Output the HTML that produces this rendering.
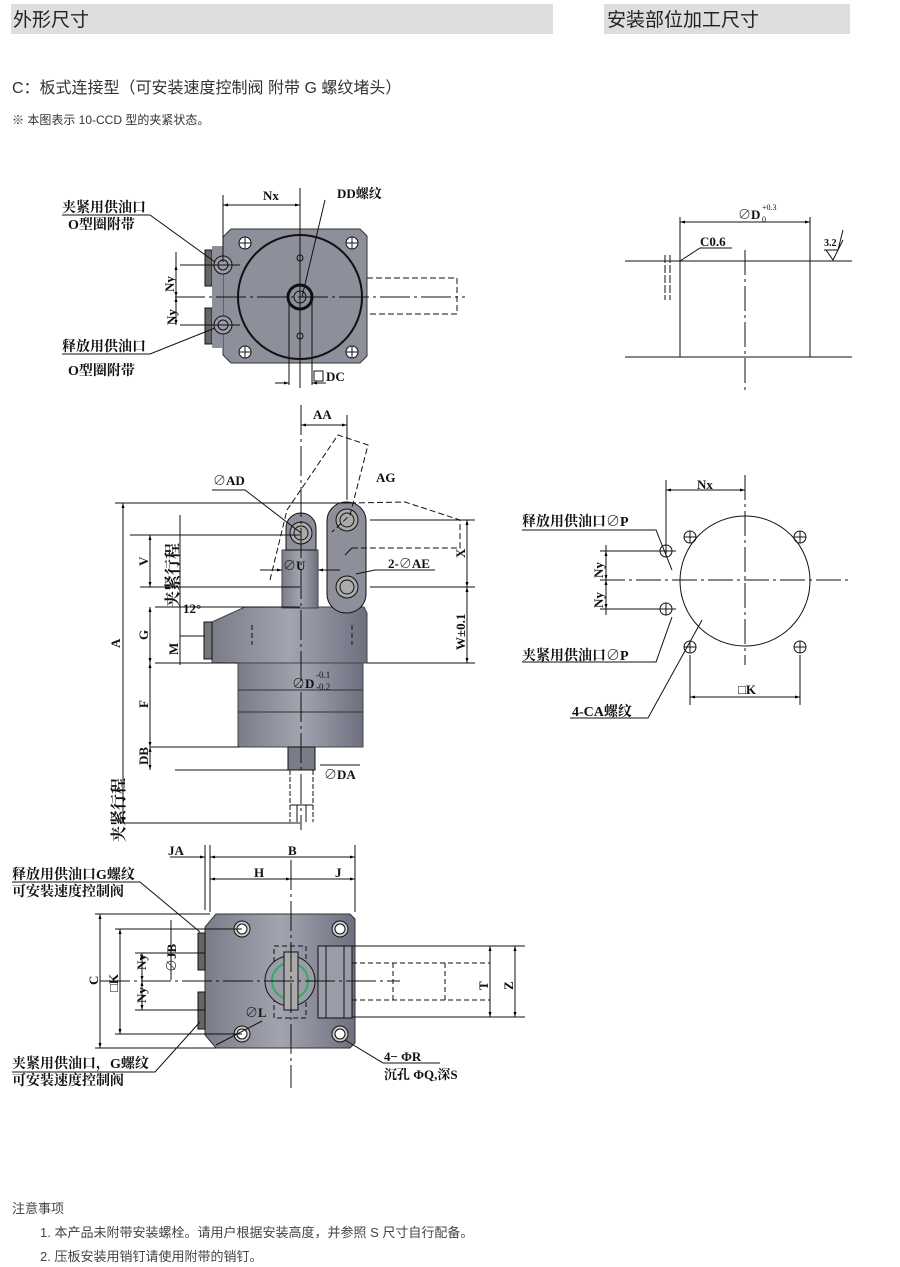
<!DOCTYPE html>
<html><head><meta charset="utf-8"><style>
body{margin:0;background:#fff;}
svg{display:block;font-family:"Liberation Serif","Noto Serif CJK SC","Noto Sans CJK SC",serif;}
.s{font-family:"Liberation Sans","Noto Sans CJK SC",sans-serif;}
</style></head><body>
<svg width="900" height="1267" viewBox="0 0 900 1267" xmlns="http://www.w3.org/2000/svg">
<defs>
<linearGradient id="g" x1="0" x2="1"><stop offset="0" stop-color="#7a7c88"/><stop offset=".5" stop-color="#a2a4b0"/><stop offset="1" stop-color="#6e7080"/></linearGradient>
<marker id="a" viewBox="0 0 10 10" refX="10" refY="5" markerWidth="7" markerHeight="5" orient="auto-start-reverse"><path d="M0,2L10,5L0,8z" fill="#000"/></marker>
</defs>
<rect x="11" y="4" width="542" height="30" fill="#dedede"/>
<rect x="604" y="4" width="246" height="30" fill="#dedede"/>
<text class="s" x="13" y="26" font-size="19" fill="#222">外形尺寸</text>
<text class="s" x="607" y="26" font-size="19" fill="#222">安装部位加工尺寸</text>
<text class="s" x="12" y="93" font-size="16" fill="#333">C：板式连接型（可安装速度控制阀  附带 G 螺纹堵头）</text>
<text class="s" x="12" y="124" font-size="12" fill="#333">※ 本图表示 10-CCD 型的夹紧状态。</text>

<g stroke="#111" stroke-width="1" fill="none">
<path d="M231,229H360L367,236V356L360,363H231L223,355V237Z" fill="#8d8f9b" stroke="#333"/>
<rect x="205" y="250" width="7" height="36" fill="#666"/><rect x="205" y="308" width="7" height="36" fill="#666"/>
<rect x="212" y="246" width="11" height="102" fill="#8d8f9b" stroke="none"/>
<circle cx="300" cy="297" r="62" stroke-width="2"/>
<circle cx="300" cy="297" r="12" stroke-width="3"/><circle cx="300" cy="297" r="6"/>
<circle cx="300" cy="258" r="3"/><circle cx="300" cy="336" r="3"/>
<g fill="#fff"><circle cx="245" cy="243" r="6"/><circle cx="352" cy="243" r="6"/><circle cx="245" cy="352" r="6"/><circle cx="352" cy="352" r="6"/></g>
<path d="M239,243h12M245,237v12M346,243h12M352,237v12M239,352h12M245,346v12M346,352h12M352,346v12"/>
<circle cx="223" cy="265" r="9" fill="#9a9ca8"/><circle cx="223" cy="265" r="5"/>
<circle cx="223" cy="325" r="9" fill="#9a9ca8"/><circle cx="223" cy="325" r="5"/>
<path d="M367,278H457V314H367" stroke-dasharray="6,3"/>
<path d="M175,297H465" stroke-dasharray="30,4,3,4"/>
<path d="M300,188V388"/>
<path d="M223,195V262"/>
<path d="M223,205H300" marker-start="url(#a)" marker-end="url(#a)"/>
<path d="M180,265H240M180,297H200M180,325H240"/>
<path d="M176,252V310"/><path d="M176,265V297" marker-start="url(#a)" marker-end="url(#a)"/><path d="M176,297V325" marker-start="url(#a)" marker-end="url(#a)"/>
<path d="M62,215H150L215,262"/><path d="M62,354H150L215,328"/>
<path d="M325,200L302,297"/>
<path d="M289,300V385M312,300V385"/>
<path d="M275,383H289" marker-end="url(#a)"/><path d="M326,383H312" marker-end="url(#a)"/>
<rect x="314" y="371" width="9" height="10"/>

<path d="M238,663H363V747H238Z" fill="url(#g)" stroke="#444"/>
<path d="M238,690H363M238,712H363" stroke="#333"/>
<path d="M288,747H315V770H288Z" fill="#7a7c88"/>
<path d="M290,770V822M313,770V822" stroke-dasharray="5,2"/>
<path d="M290,805H313M297,805V822M306,805V822"/>
<path d="M212,622L245,607H364L367,613V663H212Z" fill="url(#g)" stroke="#444"/>
<rect x="204" y="622" width="8" height="37" fill="#777"/>
<path d="M252,625V645M352,625V645" stroke-dasharray="5,3"/>
<rect x="282" y="550" width="36" height="58" fill="url(#g)" stroke="#444"/>
<path d="M286,550V528A15,15 0 0 1 316,528V550Z" fill="#8d8f9b"/>
<circle cx="301" cy="533" r="11" fill="#aaa"/><circle cx="301" cy="533" r="7"/>
<rect x="327" y="502" width="39" height="111" rx="19" fill="#8d8f9b"/>
<circle cx="347" cy="520" r="11" fill="#aaa"/><circle cx="347" cy="520" r="7"/>
<circle cx="347" cy="587" r="11" fill="#aaa"/><circle cx="347" cy="587" r="7"/>
<path d="M270,580L287,510L338,435L368,445L350,515L332,532" stroke-dasharray="6,3"/>
<path d="M350,503L405,502L460,520L460,548L350,548" stroke-dasharray="6,3"/>
<path d="M301,405V830" stroke-dasharray="30,4,3,4"/>
<path d="M347,415V500"/>
<path d="M301,425H347" marker-start="url(#a)" marker-end="url(#a)"/>
<path d="M115,503H350M120,823H300M130,535H300M140,587H300M155,607H300M155,663H238M150,747H240M175,770H288"/>
<path d="M123,503V823" marker-start="url(#a)" marker-end="url(#a)"/>
<path d="M150,535V587" marker-start="url(#a)" marker-end="url(#a)"/>
<path d="M150,607V663" marker-start="url(#a)" marker-end="url(#a)"/>
<path d="M150,663V747" marker-start="url(#a)" marker-end="url(#a)"/>
<path d="M150,747V770" marker-start="url(#a)" marker-end="url(#a)"/>
<path d="M180,515V610"/>
<path d="M180,600V665"/>
<path d="M180,636H205"/>
<path d="M370,520H475M370,587H475M367,663H475"/>
<path d="M467,520V587" marker-start="url(#a)" marker-end="url(#a)"/>
<path d="M467,587V663" marker-start="url(#a)" marker-end="url(#a)"/>
<path d="M212,490H245L301,533"/>
<path d="M345,555L352,548M356,574L375,570H435"/>
<path d="M260,570H282" marker-end="url(#a)"/><path d="M340,570H318" marker-end="url(#a)"/>
<path d="M320,765H360"/>

<path d="M216,914H350L355,919V1043L350,1048H216L205,1035V927Z" fill="url(#g)" stroke="#333"/>
<rect x="198" y="933" width="7" height="37" fill="#666"/><rect x="198" y="992" width="7" height="37" fill="#666"/>
<g fill="#ccc"><circle cx="242" cy="929" r="8"/><circle cx="340" cy="929" r="8"/><circle cx="242" cy="1034" r="8"/><circle cx="340" cy="1034" r="8"/></g>
<g fill="#fff"><circle cx="242" cy="929" r="5"/><circle cx="340" cy="929" r="5"/><circle cx="242" cy="1034" r="5"/><circle cx="340" cy="1034" r="5"/></g>
<rect x="274" y="946" width="32" height="72" stroke-dasharray="5,3"/>
<circle cx="290" cy="981" r="25" fill="#9a9ca8"/><circle cx="290" cy="981" r="18" stroke="#3a6" stroke-width="2"/>
<rect x="284" y="952" width="14" height="58" fill="#aaa"/>
<rect x="318" y="946" width="34" height="72" fill="#9a9ca8"/>
<path d="M326,946V1018M344,946V1018"/>
<path d="M352,946H525M352,1017H525"/>
<path d="M352,963H490M352,1000H490M393,963V1000M445,963V1000" stroke-dasharray="5,3"/>
<path d="M100,981H400" stroke-dasharray="30,4,3,4"/>
<path d="M291,860V1088" stroke-dasharray="30,4,3,4"/>
<path d="M205,845V910M210,845V912M355,845V912"/>
<path d="M210,857H355" marker-start="url(#a)" marker-end="url(#a)"/>
<path d="M170,857H205" marker-end="url(#a)"/>
<path d="M210,879H291" marker-start="url(#a)" marker-end="url(#a)"/>
<path d="M291,879H355" marker-end="url(#a)"/>
<path d="M95,914H210M95,1048H216M115,929H242M115,1034H242M135,953H205M135,1010H205M160,929H205"/>
<path d="M100,914V1048" marker-start="url(#a)" marker-end="url(#a)"/>
<path d="M120,929V1034" marker-start="url(#a)" marker-end="url(#a)"/>
<path d="M142,953V981" marker-start="url(#a)" marker-end="url(#a)"/>
<path d="M142,981V1010" marker-start="url(#a)" marker-end="url(#a)"/>
<path d="M171,920V980"/>
<path d="M490,946V1017" marker-start="url(#a)" marker-end="url(#a)"/>
<path d="M515,946V1017" marker-start="url(#a)" marker-end="url(#a)"/>
<path d="M12,882H140L200,932"/><path d="M12,1072H155L200,1022"/>
<path d="M216,1045L262,1021"/>
<path d="M345,1040L383,1063H440"/>

<path d="M625,261H852M625,357H852"/>
<path d="M680,217V357M810,217V357"/>
<path d="M745,250V390" stroke-dasharray="25,4,3,4"/>
<path d="M680,222H810" marker-start="url(#a)" marker-end="url(#a)"/>
<path d="M665,255V300M670,255V300" stroke-dasharray="8,2"/>
<path d="M680,261L700,248H732"/>
<path d="M824,250H838L843,230M826,250L833,260L843,240"/>

<circle cx="745" cy="581" r="65"/>
<path d="M600,580H850" stroke-dasharray="25,4,3,4"/>
<path d="M745,475V665" stroke-dasharray="25,4,3,4"/>
<g><circle cx="690" cy="537" r="6"/><circle cx="800" cy="537" r="6"/><circle cx="690" cy="647" r="6"/><circle cx="800" cy="647" r="6"/>
<circle cx="666" cy="551" r="6"/><circle cx="666" cy="609" r="6"/></g>
<path d="M684,537h12M690,531v12M794,537h12M800,531v12M684,647h12M690,641v12M794,647h12M800,641v12M660,551h12M666,545v12M660,609h12M666,603v12"/>
<path d="M666,480V545"/>
<path d="M666,490H745" marker-start="url(#a)" marker-end="url(#a)"/>
<path d="M600,551H676M600,609H676"/>
<path d="M606,545V615"/>
<path d="M606,551V580" marker-start="url(#a)" marker-end="url(#a)"/><path d="M606,580V609" marker-start="url(#a)" marker-end="url(#a)"/>
<path d="M690,655V705M800,655V705"/>
<path d="M690,697H800" marker-start="url(#a)" marker-end="url(#a)"/>
<path d="M522,530H656L672,570"/>
<path d="M522,662H656L672,617"/>
<path d="M570,718H648L702,620"/>
</g>

<g font-size="13" fill="#111" font-weight="bold">
<text x="263" y="200">Nx</text>
<text x="337" y="198">DD螺纹</text>
<text x="62" y="212" font-size="14">夹紧用供油口</text>
<text x="68" y="229" font-size="14">O型圈附带</text>
<text x="62" y="351" font-size="14">释放用供油口</text>
<text x="68" y="375" font-size="14">O型圈附带</text>
<text x="326" y="381">DC</text>
<text x="174" y="292" transform="rotate(-90 174 292)">Ny</text>
<text x="176" y="325" transform="rotate(-90 176 325)">Ny</text>

<text x="313" y="419">AA</text>
<text x="213" y="485">∅AD</text>
<text x="376" y="482">AG</text>
<text x="388" y="568">2-∅AE</text>
<text x="283" y="570">∅U</text>
<text x="183" y="613">12°</text>
<text x="292" y="688">∅D</text>
<text x="316" y="678" font-size="9" font-weight="normal">-0.1</text>
<text x="316" y="690" font-size="9" font-weight="normal">-0.2</text>
<text x="324" y="779">∅DA</text>
<text x="120" y="648" transform="rotate(-90 120 648)">A</text>
<text x="148" y="566" transform="rotate(-90 148 566)">V</text>
<text x="148" y="640" transform="rotate(-90 148 640)">G</text>
<text x="178" y="655" transform="rotate(-90 178 655)">M</text>
<text x="148" y="708" transform="rotate(-90 148 708)">F</text>
<text x="148" y="765" transform="rotate(-90 148 765)">DB</text>
<text x="465" y="558" transform="rotate(-90 465 558)">X</text>
<text x="465" y="650" transform="rotate(-90 465 650)">W±0.1</text>
<text x="178" y="607" transform="rotate(-90 178 607)" font-size="16">夹紧行程</text>
<text x="124" y="842" transform="rotate(-90 124 842)" font-size="16">夹紧行程</text>

<text x="168" y="855">JA</text>
<text x="288" y="855">B</text>
<text x="254" y="877">H</text>
<text x="335" y="877">J</text>
<text x="12" y="879" font-size="14">释放用供油口G螺纹</text>
<text x="12" y="896" font-size="14">可安装速度控制阀</text>
<text x="12" y="1068" font-size="14">夹紧用供油口，G螺纹</text>
<text x="12" y="1085" font-size="14">可安装速度控制阀</text>
<text x="98" y="985" transform="rotate(-90 98 985)">C</text>
<text x="118" y="992" transform="rotate(-90 118 992)">□K</text>
<text x="176" y="972" transform="rotate(-90 176 972)">∅JB</text>
<text x="146" y="970" transform="rotate(-90 146 970)">Ny</text>
<text x="146" y="1003" transform="rotate(-90 146 1003)">Ny</text>
<text x="245" y="1017">∅L</text>
<text x="488" y="990" transform="rotate(-90 488 990)">T</text>
<text x="513" y="990" transform="rotate(-90 513 990)">Z</text>
<text x="384" y="1061">4− ΦR</text>
<text x="384" y="1079">沉孔 ΦQ,深S</text>

<text x="738" y="219">∅D</text><text x="762" y="210" font-size="8" font-weight="normal">+0.3</text><text x="762" y="222" font-size="8" font-weight="normal">0</text>
<text x="700" y="246">C0.6</text>
<text x="824" y="246" font-size="10">3.2</text>
<text x="697" y="489">Nx</text>
<text x="522" y="526" font-size="14">释放用供油口∅P</text>
<text x="522" y="660" font-size="14">夹紧用供油口∅P</text>
<text x="572" y="716" font-size="14">4-CA螺纹</text>
<text x="603" y="578" transform="rotate(-90 603 578)">Ny</text>
<text x="603" y="608" transform="rotate(-90 603 608)">Ny</text>
<text x="738" y="694">□K</text>
</g>

<g class="s" font-size="13" fill="#444">
<text x="12" y="1213">注意事项</text>
<text x="40" y="1237">1. 本产品未附带安装螺栓。请用户根据安装高度，并参照 S 尺寸自行配备。</text>
<text x="40" y="1261">2. 压板安装用销钉请使用附带的销钉。</text>
</g>
</svg>
</body></html>
